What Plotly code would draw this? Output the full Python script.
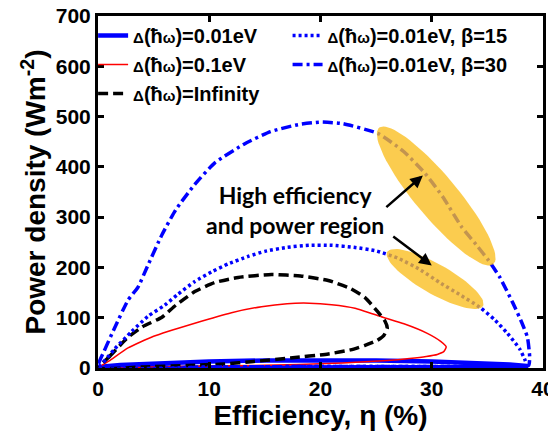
import numpy as np
import plotly.graph_objects as go

# ---- data ----
solid_x = [0, 0.5, 2, 5, 10, 15, 20, 25, 30, 34, 37, 38.5, 38.6, 36, 30, 20, 10, 3, 0]
solid_y = [0, 3, 6, 9, 13, 15, 16, 15, 13, 10, 7, 4, 2, 2, 2, 2, 1.5, 1, 0]

red_x = [0, 1, 2.7, 5, 8.7, 12, 14.7, 17, 19, 21, 23.1, 25.6, 27.5, 29.6, 30.8, 31.3, 31.1, 30.5, 29.5, 28, 26, 22, 18, 14, 10, 5, 0]
red_y = [0, 14, 40, 63, 89, 110, 122, 128, 129, 126, 119, 101, 88, 69, 53, 42, 33, 27, 23, 19, 15, 10, 7, 5, 4, 2, 0]

blk_x = [0, 1, 2.7, 4, 5.75, 7, 8.7, 10.5, 12.6, 15.6, 18.2, 20.7, 22.7, 24, 25.1, 25.8, 26, 25.7, 25.1, 24, 22.7, 20.7, 17.3, 14, 11.3, 8, 4, 0]
blk_y = [0, 22, 61, 82, 101, 125, 152, 170, 180, 186, 183, 174, 158, 140, 113, 93, 79, 65, 55, 45, 36, 28, 20, 13, 8, 5, 2, 0]

dot_x = [0, 0.5, 1.5, 3, 4.5, 6, 7.2, 8.7, 10.2, 11.7, 13.5, 15, 17, 19, 21, 23, 25, 27, 29, 30.7, 32.5, 34.3, 35.7, 36.8, 37.9, 38.4, 38.5, 36, 30, 20, 10, 0]
dot_y = [0, 12, 38, 72, 103, 125, 147, 172, 191, 207, 222, 232, 240, 244, 244, 240, 233, 218, 195, 170, 146, 121, 95, 69, 38, 15, 4, 3, 3, 3, 2, 0]

dd_x = [0, 0.6, 1.5, 2.7, 3.6, 4.5, 5.75, 7, 8.7, 10.5, 13.2, 15.5, 18, 20, 22, 25.2, 27.5, 29.4, 31, 32.7, 34, 35.1, 36.1, 37.3, 38.1, 38.6, 38.8, 38.7, 36, 30, 20, 10, 0]
dd_y = [0, 36, 80, 135, 161, 205, 265, 315, 365, 408, 446, 470, 484, 489, 486, 466, 430, 387, 340, 280, 245, 214, 181, 129, 90, 61, 22, 5, 3, 3, 3, 2, 0]

x_ticks = [0, 10, 20, 30, 40]
y_ticks = [0, 100, 200, 300, 400, 500, 600, 700]

SM = "<span style='font-size:15px'>"
names = {
    "solid": f"{SM}Δ</span>(ħ{SM}ω</span>)=0.01eV",
    "red": f"{SM}Δ</span>(ħ{SM}ω</span>)=0.1eV",
    "blk": f"{SM}Δ</span>(ħ{SM}ω</span>)=Infinity",
    "dot": f"{SM}Δ</span>(ħ{SM}ω</span>)=0.01eV, β=15",
    "dd": f"{SM}Δ</span>(ħ{SM}ω</span>)=0.01eV, β=30",
}

# ---- layout constants (page body adds an 8px offset) ----
OFF = 8
W, H = 556 - OFF, 433 - OFF
ML, MT = 98 - OFF, 16 - OFF
PW, PH = 445, 352
MR, MB = W - ML - PW, H - MT - PH
XR, YR = 40.0, 700.0
sx, sy = PW / XR, PH / YR  # px per data unit

FONT = "Liberation Sans, Arial, sans-serif"
BLUE = "#0000FF"

fig = go.Figure()
fig.add_trace(go.Scatter(x=solid_x, y=solid_y, mode="lines", name=names["solid"],
                         line=dict(color=BLUE, width=4.5), legend="legend"))
fig.add_trace(go.Scatter(x=red_x, y=red_y, mode="lines", name=names["red"],
                         line=dict(color="#FF0000", width=1.5, shape="spline", smoothing=0.5), legend="legend"))
fig.add_trace(go.Scatter(x=blk_x, y=blk_y, mode="lines", name=names["blk"],
                         line=dict(color="black", width=3.5, dash="10px,5px", shape="spline", smoothing=0.5), legend="legend"))
fig.add_trace(go.Scatter(x=dot_x, y=dot_y, mode="lines", name=names["dot"],
                         line=dict(color=BLUE, width=3.5, dash="3px,3px", shape="spline", smoothing=0.5), legend="legend2"))
fig.add_trace(go.Scatter(x=dd_x, y=dd_y, mode="lines", name=names["dd"],
                         line=dict(color=BLUE, width=3.5, dash="10px,4px,3px,4px", shape="spline", smoothing=0.5), legend="legend2"))


def ellipse(cx, cy, a_px, b_px, dir_px):
    ux, uy = dir_px
    n = np.hypot(ux, uy)
    ux, uy = ux / n, uy / n
    vx, vy = -uy, ux
    t = np.linspace(0, 2 * np.pi, 80)
    px = a_px * np.cos(t) * ux + b_px * np.sin(t) * vx
    py = a_px * np.cos(t) * uy + b_px * np.sin(t) * vy
    return cx + px / sx, cy - py / sy


for (cx, cy, a, b, d) in [(30.4, 342, 89, 21, (113, 135)), (30.3, 177, 55, 15, (94, 53))]:
    ex, ey = ellipse(cx, cy, a, b, d)
    fig.add_trace(go.Scatter(x=ex, y=ey, mode="lines", fill="toself",
                             fillcolor="rgba(250,190,30,0.78)", line=dict(width=0),
                             showlegend=False, hoverinfo="skip"))

# annotation text and arrows
fig.add_annotation(x=17.7, y=315, text="High efficiency<br>and power region", showarrow=False,
                   font=dict(family="Lato, Open Sans, sans-serif", size=23, color="black", weight="bold"),
                   align="center")
fig.add_annotation(x=29.2, y=383, ax=-38, ay=33, text="", showarrow=True, arrowhead=2,
                   arrowsize=1, arrowwidth=2.5, arrowcolor="black")
fig.add_annotation(x=30.0, y=204, ax=-40, ay=-30, text="", showarrow=True, arrowhead=2,
                   arrowsize=1, arrowwidth=2.5, arrowcolor="black")

axis_common = dict(showline=True, linewidth=3, linecolor="black", mirror="ticks",
                   ticks="inside", ticklen=6, tickwidth=3, tickcolor="black",
                   showgrid=False, zeroline=False, automargin=False,
                   ticklabeloverflow="allow",
                   tickfont=dict(family=FONT, size=21, color="black", weight="bold"))

legend_common = dict(orientation="v", yanchor="top", xanchor="left",
                     bgcolor="rgba(0,0,0,0)", itemwidth=30, tracegroupgap=0,
                     font=dict(family=FONT, size=20, color="black", weight="bold"))

fig.update_layout(
    width=W, height=H,
    margin=dict(l=ML, r=MR, t=MT, b=MB, autoexpand=False),
    paper_bgcolor="white", plot_bgcolor="white",
    xaxis=dict(range=[0, XR], tickvals=x_ticks,
               title=dict(text="Efficiency, η (%)", standoff=0,
                          font=dict(family=FONT, size=28, color="black", weight="bold")),
               **axis_common),
    yaxis=dict(range=[0, YR], tickvals=y_ticks,
               title=dict(text="Power density (Wm<sup>-2</sup>)", standoff=2,
                          font=dict(family=FONT, size=28, color="black", weight="bold")),
               **axis_common),
    legend=dict(x=-0.011, y=1.0, **legend_common),
    legend2=dict(x=0.426, y=1.0, **legend_common),
    showlegend=True,
)

fig.write_html("out.html")
